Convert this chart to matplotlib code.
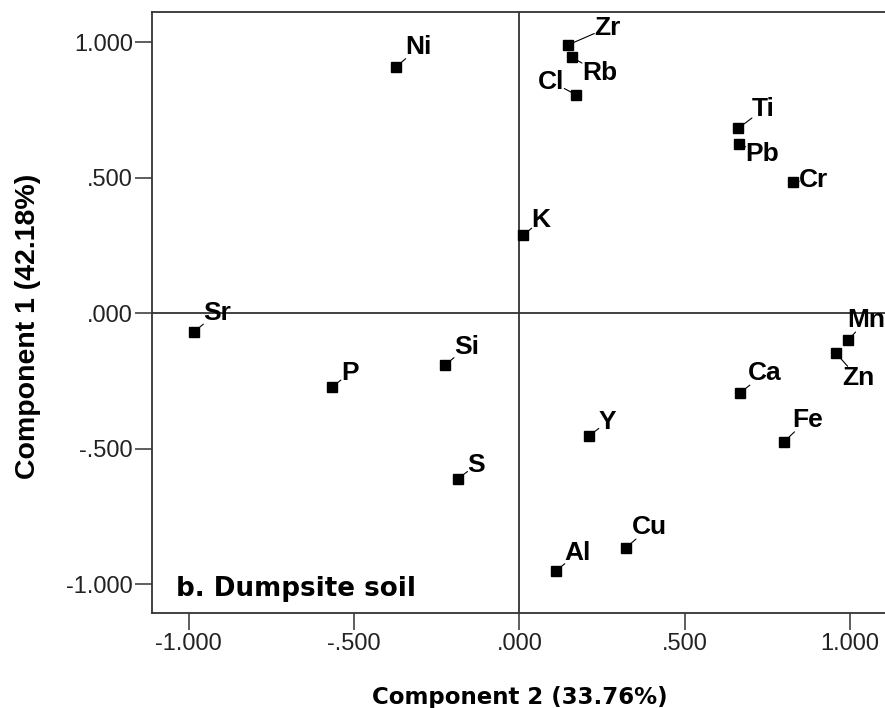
import matplotlib
matplotlib.use("Agg")
import matplotlib.pyplot as plt

# component loadings
elements = ["Ni", "Zr", "Rb", "Cl", "Ti", "Pb", "Cr", "K", "Sr", "Mn",
            "Zn", "Si", "P", "Ca", "Y", "Fe", "S", "Cu", "Al"]
comp2 = [-0.374, 0.148, 0.159, 0.171, 0.661, 0.663, 0.828, 0.010, -0.983, 0.995,
         0.958, -0.225, -0.567, 0.667, 0.210, 0.800, -0.187, 0.322, 0.110]
comp1 = [0.908, 0.991, 0.945, 0.807, 0.682, 0.625, 0.485, 0.287, -0.068, -0.099,
         -0.148, -0.192, -0.273, -0.295, -0.453, -0.475, -0.612, -0.867, -0.952]
ticks = [-1.0, -0.5, 0.0, 0.5, 1.0]
tick_labels = ["-1.000", "-.500", ".000", ".500", "1.000"]

# label offsets (pixels) relative to each marker, baseline-left of the text
label_offsets = [(10, 13), (26, 10), (10, -23), (-38, 6), (14, 12), (7, -17), (6, -5),
                 (9, 8), (9, 12), (-1, 13), (6, -32), (9, 11), (9, 7), (8, 13),
                 (10, 7), (8, 15), (10, 7), (6, 14), (9, 11)]

fig = plt.figure(figsize=(8.85, 7.08), dpi=100)
# right edge of the frame sits just past the picture, as in the original
ax = fig.add_axes([151.7 / 885, 1 - 613.3 / 708, 738.0 / 885, 601.0 / 708])

line_color = "#333333"
ax.axhline(0, color=line_color, lw=1.3, zorder=1)
ax.axvline(0, color=line_color, lw=1.3, zorder=1)

ax.plot(comp2, comp1, linestyle="none", marker="s", markersize=7,
        color="black", zorder=5)

for name, x, y, (dx, dy) in zip(elements, comp2, comp1, label_offsets):
    ax.annotate(name, xy=(x, y), xytext=(dx, dy), textcoords="offset pixels",
                ha="left", va="baseline", fontsize=19, fontweight="bold",
                family="Liberation Sans", color="black", zorder=4,
                bbox=dict(boxstyle="square,pad=0", fc="none", ec="none"),
                arrowprops=dict(arrowstyle="-", color="black", lw=0.8,
                                shrinkA=0, shrinkB=0))

ax.set_xlim(-1.112, 1.120)
ax.set_ylim(-1.108, 1.111)
ax.set_xticks(ticks)
ax.set_xticklabels(tick_labels)
ax.set_yticks(ticks)
ax.set_yticklabels(tick_labels)
ax.tick_params(axis="both", length=12.5, width=1.1, color=line_color,
               labelsize=17, labelcolor="#222222")
ax.tick_params(axis="x", pad=2)
ax.tick_params(axis="y", pad=1)
for lab in ax.get_xticklabels() + ax.get_yticklabels():
    lab.set_family("Liberation Sans")

for side in ["left", "bottom", "top"]:
    ax.spines[side].set_color(line_color)
    ax.spines[side].set_linewidth(1.3)
ax.spines["right"].set_visible(False)

ax.set_xlabel("Component 2 (33.76%)", fontsize=16.5, fontweight="bold",
              family="DejaVu Sans", va="baseline")
ax.xaxis.set_label_coords((519.5 - 151.7) / 738.0, -0.151)
ax.set_ylabel("Component 1 (42.18%)", fontsize=20.5, fontweight="bold",
              family="Liberation Sans", va="center", ha="center")
ax.yaxis.set_label_coords((28 - 151.7) / 738.0, 0.478)

ax.text((176 - 151.7) / 738.0, 0.0288, "b. Dumpsite soil", transform=ax.transAxes,
        fontsize=18.8, fontweight="bold", family="DejaVu Sans",
        ha="left", va="baseline")

fig.savefig("out.png", dpi=100)
